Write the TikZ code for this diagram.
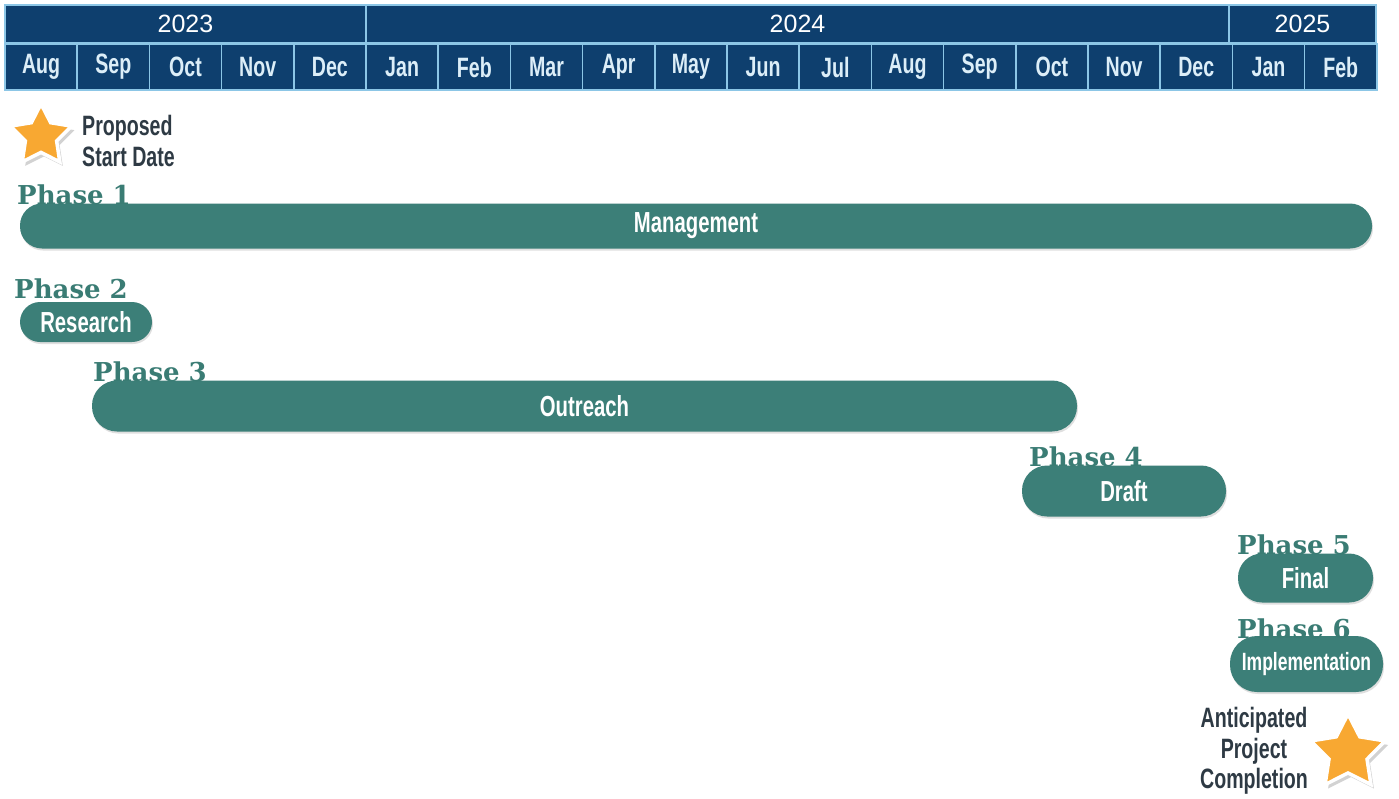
\documentclass[tikz,border=0pt]{standalone}
\usepackage{fontspec}
\setmainfont{Liberation Sans}
\newfontfamily\condfont[FakeStretch=0.7]{Liberation Sans}
\newfontfamily\slabfont{DejaVu Serif}
\usepackage{pdfrender}
\usetikzlibrary{shapes.geometric,shadows}
\definecolor{navy}{HTML}{0E3F6E}
\definecolor{lineblue}{HTML}{8CC6E6}
\definecolor{monthtxt}{HTML}{DCEEF8}
\definecolor{teal}{HTML}{3C7F78}
\definecolor{labteal}{HTML}{3A7C74}
\definecolor{starorange}{HTML}{F8A832}
\definecolor{darktxt}{HTML}{2E3A44}
\newcommand{\haloed}[1]{\textpdfrender{TextRenderingMode=FillStroke,LineWidth=1.6,StrokeColor=white,LineJoin=1}{#1}}
\tikzset{
  yearcell/.style={draw=lineblue, line width=1.6pt, fill=navy, minimum height=38pt, inner sep=0pt, text=white, font=\fontsize{25}{25}\selectfont},
  monthcell/.style={draw=lineblue, line width=1.6pt, fill=navy, minimum width=72.2pt, minimum height=46pt, inner sep=0pt, text=monthtxt, font=\condfont\bfseries\fontsize{28}{28}\selectfont},
  bar/.style={fill=teal, rounded corners=#1, inner sep=0pt, text=white, font=\condfont\bfseries\fontsize{29}{29}\selectfont, drop shadow={opacity=0.25, shadow xshift=1pt, shadow yshift=-2pt}},
  phaselab/.style={anchor=base west, inner sep=0pt, text=labteal, font=\slabfont\bfseries\fontsize{26}{26}\selectfont},
  starmark/.style={star, star points=5, star point ratio=1.95, fill=starorange, draw=white, line width=3.5pt, inner sep=0pt, drop shadow={opacity=0.35, shadow xshift=3pt, shadow yshift=-4pt, fill=gray}},
  note/.style={text=darktxt, align=center, font=\condfont\bfseries\fontsize{28}{30.5}\selectfont, inner sep=0pt}
}
\begin{document}
\begin{tikzpicture}[x=1pt,y=-1pt]
\useasboundingbox (0,0) rectangle (1399,798);
\fill[white] (0,0) rectangle (1399,798);
% year row
\node[yearcell, minimum width=361pt] (y2023) at (185.5,24) {2023};
\node[yearcell, minimum width=863pt] (y2024) at (797.5,24) {2024};
\node[yearcell, minimum width=147pt] (y2025) at (1302.5,24) {2025};
% month row
\foreach \m [count=\i from 0] in {Aug,Sep,Oct,Nov,Dec,Jan,Feb,Mar,Apr,May,Jun,Jul,Aug,Sep,Oct,Nov,Dec,Jan,Feb}{
  \node[monthcell] (m\i) at ({5+72.2*\i+36.1},67) {\m};
}
% stars
\node[starmark, minimum size=64pt] (s1) at (41,136) {};
\node[note, anchor=west, align=left] (t1) at (82,141) {Proposed\\Start Date};
\node[starmark, minimum size=78pt] (s2) at (1348,753) {};
\node[note] (t2) at (1254,751) {Anticipated\\Project\\Completion};
% bars
\node[bar=22pt, minimum width=1352pt, minimum height=45pt] (b1) at (696,226) {Management};
\node[bar=20pt, minimum width=132pt, minimum height=40pt] (b2) at (86,322) {Research};
\node[bar=25pt, minimum width=985pt, minimum height=51pt] (b3) at (584.5,406) {Outreach};
\node[bar=25pt, minimum width=204pt, minimum height=51pt] (b4) at (1124,491) {Draft};
\node[bar=24pt, minimum width=135pt, minimum height=49pt] (b5) at (1305.5,578) {Final};
\node[bar=27pt, minimum width=153pt, minimum height=56pt, font=\condfont\bfseries\fontsize{25}{25}\selectfont] (b6) at (1306.5,664) {Implementation};
% phase labels
\node[phaselab] (p1) at (17,204) {\haloed{Phase 1}};
\node[phaselab] (p2) at (14,298) {\haloed{Phase 2}};
\node[phaselab] (p3) at (93,381) {\haloed{Phase 3}};
\node[phaselab] (p4) at (1029,466) {\haloed{Phase 4}};
\node[phaselab] (p5) at (1237,554) {\haloed{Phase 5}};
\node[phaselab] (p6) at (1237,638) {\haloed{Phase 6}};
\end{tikzpicture}
\end{document}
